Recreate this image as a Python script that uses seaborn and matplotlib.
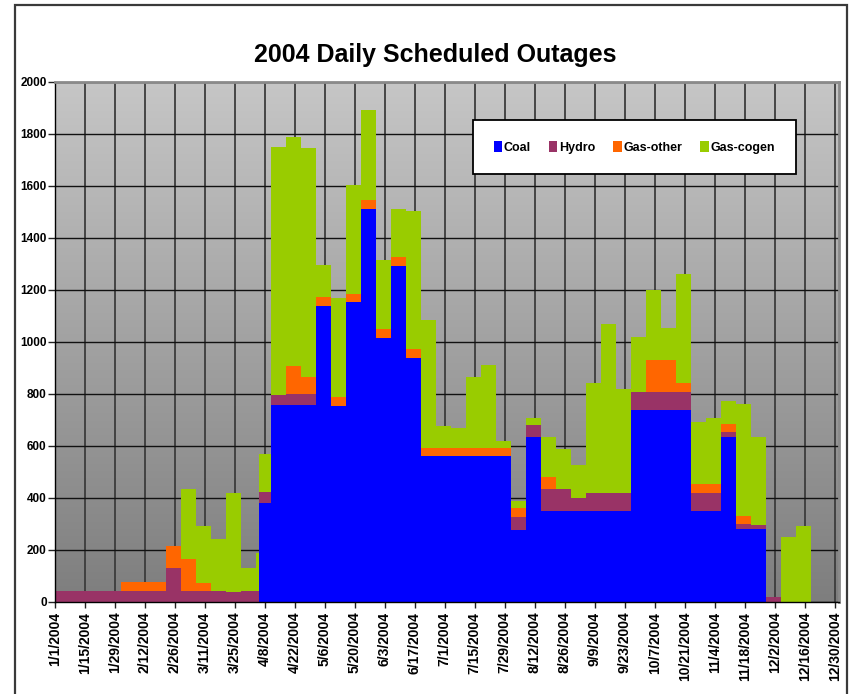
import numpy as np
import pandas as pd
import matplotlib
matplotlib.use("Agg")
import matplotlib.pyplot as plt
from matplotlib.patches import Patch, Rectangle
from matplotlib.colors import LinearSegmentedColormap
import seaborn as sns

# -----------------------------
# Data (MW out of service, each value holds until the next start date)
# -----------------------------
seg_start = [
    "2004-01-01", "2004-02-01", "2004-02-22", "2004-02-29", "2004-03-07",
    "2004-03-14", "2004-03-21", "2004-03-28", "2004-04-04", "2004-04-05",
    "2004-04-11", "2004-04-18", "2004-04-25", "2004-05-02", "2004-05-09",
    "2004-05-16", "2004-05-23", "2004-05-30", "2004-06-06", "2004-06-13",
    "2004-06-20", "2004-06-27", "2004-07-04", "2004-07-11", "2004-07-18",
    "2004-07-25", "2004-08-01", "2004-08-08", "2004-08-15", "2004-08-22",
    "2004-08-29", "2004-09-05", "2004-09-12", "2004-09-19", "2004-09-26",
    "2004-10-03", "2004-10-10", "2004-10-17", "2004-10-24", "2004-10-31",
    "2004-11-07", "2004-11-14", "2004-11-21", "2004-11-28", "2004-12-05",
    "2004-12-12", "2004-12-19",
]
period_end = "2005-01-01"

coal = [
    0, 0, 0, 0, 0, 0, 0, 0, 0, 381,
    757, 757, 757, 1137, 753, 1152, 1510, 1014, 1291, 937,
    562, 562, 562, 562, 562, 562, 278, 635, 351, 351,
    351, 351, 351, 351, 738, 738, 738, 738, 351, 351,
    634, 280, 280, 0, 0, 0, 0,
]
hydro = [
    42, 42, 131, 42, 42, 42, 38, 42, 42, 42,
    38, 42, 42, 0, 0, 0, 0, 0, 0, 0,
    0, 0, 0, 0, 0, 0, 50, 45, 83, 83,
    49, 68, 68, 68, 69, 69, 69, 69, 68, 68,
    19, 20, 16, 19, 0, 0, 0,
]
gas_other = [
    0, 36, 85, 123, 31, 0, 0, 0, 0, 0,
    0, 108, 65, 35, 35, 31, 34, 35, 34, 35,
    31, 31, 31, 31, 31, 31, 34, 0, 46, 0,
    0, 0, 0, 0, 0, 123, 123, 34, 34, 34,
    31, 30, 0, 0, 0, 0, 0,
]
gas_cogen = [
    0, 0, 0, 269, 219, 200, 381, 89, 146, 146,
    953, 879, 880, 123, 382, 418, 346, 265, 185, 530,
    490, 83, 77, 271, 317, 25, 27, 28, 154, 154,
    126, 422, 649, 399, 210, 269, 125, 419, 239, 254,
    88, 431, 338, 0, 250, 292, 0,
]

sources = ["Coal", "Hydro", "Gas-other", "Gas-cogen"]
colors = ["#0000FF", "#993366", "#FF6600", "#99CC00"]

tick_labels = [
    "1/1/2004", "1/15/2004", "1/29/2004", "2/12/2004", "2/26/2004",
    "3/11/2004", "3/25/2004", "4/8/2004", "4/22/2004", "5/6/2004",
    "5/20/2004", "6/3/2004", "6/17/2004", "7/1/2004", "7/15/2004",
    "7/29/2004", "8/12/2004", "8/26/2004", "9/9/2004", "9/23/2004",
    "10/7/2004", "10/21/2004", "11/4/2004", "11/18/2004", "12/2/2004",
    "12/16/2004", "12/30/2004",
]
y_ticks = [0, 200, 400, 600, 800, 1000, 1200, 1400, 1600, 1800, 2000]

# -----------------------------
# Build long table
# -----------------------------
base = pd.Timestamp("2004-01-01")
start_day = [(pd.Timestamp(d) - base).days for d in seg_start]
edges = start_day + [(pd.Timestamp(period_end) - base).days]

df = pd.DataFrame({
    "day": start_day * len(sources),
    "source": np.repeat(sources, len(start_day)),
    "mw": coal + hydro + gas_other + gas_cogen,
})

# -----------------------------
# Plot
# -----------------------------
sns.set_theme(style="white")
plt.rcParams["font.family"] = ["Liberation Sans", "DejaVu Sans"]
plt.rcParams["font.weight"] = "bold"
plt.rcParams["text.color"] = "black"

fig, ax = plt.subplots(figsize=(8.57, 6.94), dpi=100)
fig.subplots_adjust(left=0.0642, right=0.979, bottom=0.1326, top=0.8823)

# gray gradient plot area
grad = np.linspace(1, 0, 256).reshape(-1, 1)
bg = LinearSegmentedColormap.from_list("bg", ["#7e7e7e", "#c6c6c6"])
ax.imshow(grad, extent=[0, 1, 0, 1], transform=ax.transAxes, aspect="auto",
          cmap=bg, zorder=-2)

sns.histplot(data=df, x="day", weights="mw", hue="source",
             hue_order=sources[::-1], palette=dict(zip(sources, colors)),
             multiple="stack", bins=edges, element="step", fill=True,
             alpha=1, linewidth=0, legend=False, ax=ax)

ax.set_xlim(0, edges[-1])
ax.set_ylim(0, 2000)
ax.set_xlabel("")
ax.set_ylabel("")

tick_days = [(pd.to_datetime(t, format="%m/%d/%Y") - base).days for t in tick_labels]
ax.set_xticks(tick_days)
ax.set_xticklabels(tick_labels, rotation=90, fontsize=10, fontweight="bold")
ax.set_yticks(y_ticks)
ax.set_yticklabels([str(v) for v in y_ticks], fontsize=8.5, fontweight="bold")
ax.tick_params(axis="x", direction="out", length=4, width=1, color="#222222",
               labelcolor="black", pad=3, bottom=True)
ax.tick_params(axis="y", direction="out", length=5, width=1, color="#222222",
               labelcolor="black", pad=1, left=True)

ax.set_axisbelow(True)
ax.xaxis.grid(True, color="#3c3c3c", linewidth=1.3)
ax.yaxis.grid(True, color="#111111", linewidth=1.0)

for side in ["left", "bottom"]:
    ax.spines[side].set_color("black")
    ax.spines[side].set_linewidth(1.0)
for side in ["top", "right"]:
    ax.spines[side].set_color("#8a8a8a")
    ax.spines[side].set_linewidth(2.0)

handles = [Patch(facecolor=c, edgecolor="none", label=s) for s, c in zip(sources, colors)]
leg = ax.legend(handles=handles, ncol=4, loc="center",
                bbox_to_anchor=(0.739, 0.874),
                frameon=True, fancybox=False, framealpha=1, edgecolor="black",
                borderpad=1.65, handlelength=0.65, handleheight=1.0,
                handletextpad=0.15, columnspacing=1.45,
                prop={"size": 9, "weight": "bold"})
leg.get_frame().set_linewidth(1.3)
for t in leg.get_texts():
    t.set_color("black")

fig.text(0.5076, 0.9107, "2004 Daily Scheduled Outages", ha="center",
         va="baseline", fontsize=18, fontweight="bold", color="black")

# outer chart border
fig.patches.append(Rectangle((0.0175, -0.05), 0.9708, 1.0428, transform=fig.transFigure,
                             fill=False, edgecolor="#3a3a3a", linewidth=1.6))

fig.savefig("out.png", dpi=100)
